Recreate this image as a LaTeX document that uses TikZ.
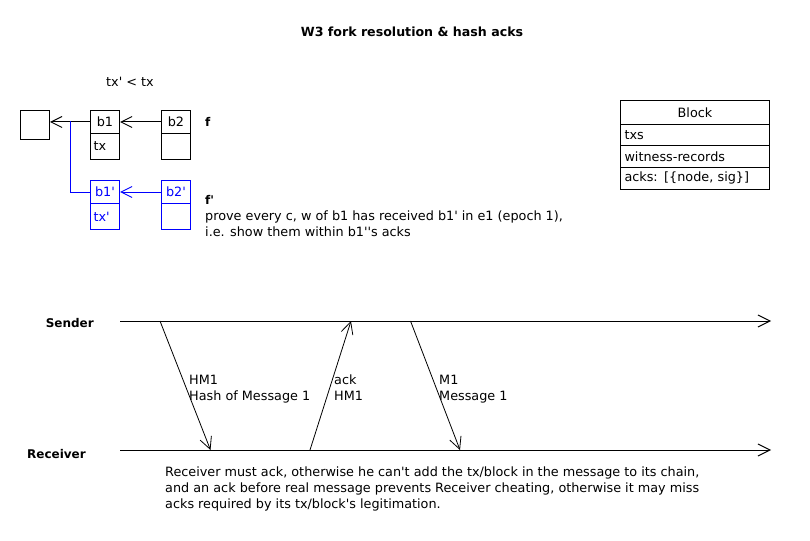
\documentclass[tikz,border=0pt]{standalone}
\usepackage{fontspec}
\newfontfamily\dv{DejaVu Sans}
\usetikzlibrary{arrows.meta,calc}
\begin{document}
\begin{tikzpicture}[x=1pt,y=-1pt,
  every node/.style={font=\dv\fontsize{12.8}{16}\selectfont},
  ln/.style={line width=1pt},
  chev/.style={ln,-{Straight Barb[length=12pt,width=12pt]}},
  schev/.style={ln,-{Straight Barb[length=11pt,width=11pt]}},
  head/.style={draw,ln,anchor=north west,minimum width=29pt,minimum height=23pt,inner sep=0pt},
  lower/.style={draw,ln,anchor=north west,minimum width=29pt,minimum height=26pt,inner xsep=3pt,inner ysep=0pt,text width=23pt,align=left},
  trow/.style={draw,ln,anchor=north west,minimum height=21.5pt,inner xsep=4pt,inner ysep=0pt,text width=141pt,align=left},
  lbl/.style={anchor=base west,inner sep=0pt,align=left},
  bold/.style={lbl,font=\dv\fontsize{12}{16}\selectfont\bfseries},
]
\useasboundingbox (0,0) rectangle (810,540);
\fill[white] (0,0) rectangle (810,540);

% title
\node[font=\dv\fontsize{12.6}{14}\selectfont\bfseries,anchor=base] (title) at (412,37) {W3 fork resolution \& hash acks};

% fork
\node[lbl,anchor=base] (cmp) at (130,87) {tx' < tx};
\node[draw,ln,anchor=north west,minimum width=29pt,minimum height=29pt,inner sep=0pt] (gen) at (20,110) {};
\node[head] (b1h) at (90,110) {b1};
\node[lower] (b1l) at (90,133) {tx};
\node[head] (b2h) at (161,110) {b2};
\node[lower] (b2l) at (161,133) {};
\node[bold] (f) at (205,127) {f};

\begin{scope}[blue]
\node[head] (b1ph) at (90,180) {b1'};
\node[lower] (b1pl) at (90,203) {tx'};
\node[head] (b2ph) at (161,180) {b2'};
\node[lower] (b2pl) at (161,203) {};
\end{scope}
\node[bold] (fp) at (205,204) {f'};
\node[lbl] (prove) at (205,236) {prove every c, w of b1 has received b1' in e1 (epoch 1),\\i.e. show them within b1''s acks};

\draw[schev] (b2h.west) -- (b1h.east);
\draw[schev] (b1h.west) -- (b1h.west -| gen.east);
\coordinate (j) at (70,121.5);
\draw[ln,blue] (b1ph.west) -| (j);
\draw[schev,blue] (b2ph.west) -- (b1ph.east);

% block table
\node[trow,minimum height=24pt,align=center] (th) at (620,100) {Block};
\node[trow] (t1) at (620,124) {txs};
\node[trow] (t2) at (620,145.5) {witness-records};
\node[trow] (t3) at (620,167) {acks: [\{node, sig\}]};

% sequence
\node[bold,anchor=base east] (snd) at (94,327) {Sender};
\node[bold,anchor=base east] (rcv) at (86,458) {Receiver};
\coordinate (s0) at (120,321);
\coordinate (s1) at (771,321);
\coordinate (r0) at (120,450);
\coordinate (r1) at (771,450);
\draw[chev] (s0) -- (s1);
\draw[chev] (r0) -- (r1);

\coordinate (hA) at (160,321);
\coordinate (hB) at (210.5,450);
\coordinate (aA) at (310,450);
\coordinate (aB) at (351,321);
\coordinate (mA) at (410.5,321);
\coordinate (mB) at (460,450);
\draw[chev,line width=0.8pt] (hA) -- (hB);
\draw[chev,line width=0.8pt] (aA) -- (aB);
\draw[chev,line width=0.8pt] (mA) -- (mB);

\node[lbl] (hml) at (189,400) {HM1\\Hash of Message 1};
\node[lbl] (ackl) at (334,400) {ack\\HM1};
\node[lbl] (ml) at (439,400) {M1\\Message 1};

\node[lbl] (note) at (165,508) {Receiver must ack, otherwise he can't add the tx/block in the message to its chain,\\and an ack before real message prevents Receiver cheating, otherwise it may miss\\acks required by its tx/block's legitimation.};
\end{tikzpicture}
\end{document}
